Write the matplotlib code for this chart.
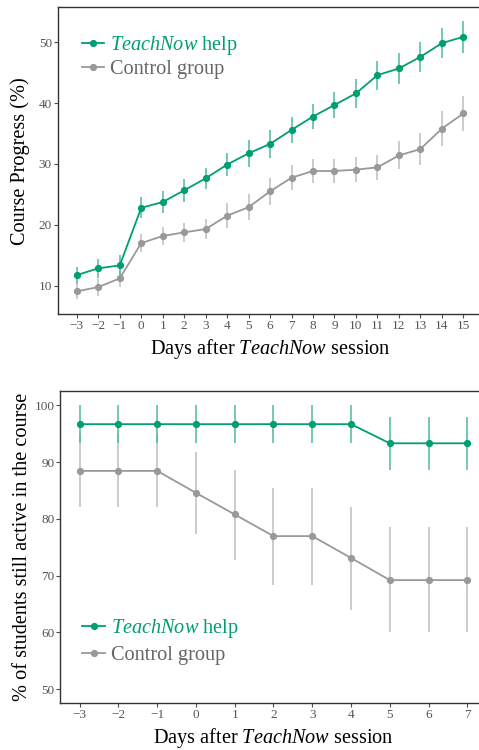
import matplotlib
matplotlib.use("Agg")
import matplotlib.pyplot as plt

plt.rcParams['font.family'] = ['Liberation Serif', 'DejaVu Serif']
plt.rcParams['mathtext.fontset'] = 'custom'
plt.rcParams['mathtext.rm'] = 'Liberation Serif'
plt.rcParams['mathtext.it'] = 'Liberation Serif:italic'

# ---- Data: course progress ----
days_prog = [-3, -2, -1, 0, 1, 2, 3, 4, 5, 6, 7, 8, 9, 10, 11, 12, 13, 14, 15]
teach_prog = [11.75, 12.85, 13.34, 22.8, 23.75, 25.67, 27.64, 29.9, 31.75, 33.3,
              35.6, 37.8, 39.7, 41.6, 44.6, 45.7, 47.6, 49.85, 50.9]
teach_prog_err = [1.4, 1.6, 1.7, 1.75, 1.8, 1.9, 1.7, 1.9, 2.2, 2.3,
                  2.2, 2.05, 2.1, 2.4, 2.4, 2.5, 2.5, 2.5, 2.6]
ctrl_prog = [9.07, 9.78, 11.2, 17.0, 18.16, 18.77, 19.3, 21.5, 22.9, 25.5,
             27.75, 28.85, 28.85, 29.07, 29.45, 31.4, 32.45, 35.8, 38.3]
ctrl_prog_err = [1.25, 1.4, 1.4, 1.5, 1.55, 1.6, 1.65, 2.05, 2.1, 2.25,
                 2.05, 1.95, 1.95, 2.0, 2.05, 2.3, 2.6, 2.9, 2.8]

# ---- Data: retention ----
days_ret = [-3, -2, -1, 0, 1, 2, 3, 4, 5, 6, 7]
teach_ret = [96.67, 96.67, 96.67, 96.67, 96.67, 96.67, 96.67, 96.67, 93.3, 93.3, 93.3]
teach_ret_lo = [93.3, 93.3, 93.3, 93.3, 93.3, 93.3, 93.3, 93.3, 88.6, 88.6, 88.6]
teach_ret_hi = [100, 100, 100, 100, 100, 100, 100, 100, 97.9, 97.9, 97.9]
ctrl_ret = [88.44, 88.44, 88.44, 84.57, 80.76, 76.95, 76.95, 73.1, 69.2, 69.2, 69.2]
ctrl_ret_lo = [82.0, 82.0, 82.0, 77.3, 72.7, 68.4, 68.4, 64.0, 60.0, 60.0, 60.0]
ctrl_ret_hi = [94.9, 94.9, 94.9, 91.85, 88.6, 85.4, 85.4, 82.0, 78.5, 78.5, 78.5]

labels = [r'$\mathit{TeachNow}$ help', 'Control group']
xlabel = r'Days after $\mathit{TeachNow}$ session'

GREEN = '#009E73'
GREEN_ERR = '#4DBB9A'
GRAY = '#999999'
GRAY_ERR = '#BDBDBD'
TICK_COL = '#555555'
LABEL_FS = 14.6
LEG_FS = 14.6

fig = plt.figure(figsize=(4.79, 7.5), dpi=100)
ax1 = fig.add_axes([57.5 / 479, 1 - 314 / 750, (482.6 - 57.5) / 479, (314 - 7.3) / 750])
ax2 = fig.add_axes([60.3 / 479, 1 - 703.3 / 750, (486.7 - 60.3) / 479, (703.3 - 391.3) / 750])


def style(ax):
    for s in ['left', 'bottom', 'top', 'right']:
        ax.spines[s].set_color('#333333')
        ax.spines[s].set_linewidth(1.0)
    ax.tick_params(axis='both', colors='#4D4D4D', labelcolor=TICK_COL,
                   labelsize=9.5, length=3, width=0.8, pad=1)


def legend(ax, handles, anchor, spacing):
    leg = ax.legend(handles, labels, loc='upper left', bbox_to_anchor=anchor, frameon=False,
                    fontsize=LEG_FS, handlelength=1.1, handletextpad=0.3,
                    labelspacing=spacing, borderaxespad=0, borderpad=0)
    for t, c in zip(leg.get_texts(), [GREEN, '#666666']):
        t.set_color(c)


# ---- Top chart ----
ax = ax1
ax.errorbar(days_prog, ctrl_prog, yerr=ctrl_prog_err, fmt='none', ecolor=GRAY_ERR, elinewidth=1.1, zorder=1)
ax.errorbar(days_prog, teach_prog, yerr=teach_prog_err, fmt='none', ecolor=GREEN_ERR, elinewidth=1.1, zorder=1)
l1, = ax.plot(days_prog, teach_prog, '-o', color=GREEN, lw=1.3, ms=4.2, zorder=3)
l2, = ax.plot(days_prog, ctrl_prog, '-o', color=GRAY, lw=1.3, ms=4.2, zorder=2)
ax.set_xlim(-3.9, 15.9)
ax.set_ylim(5.35, 55.75)
ax.set_xticks(days_prog)
ax.set_xticklabels([str(d).replace('-', '\u2212') for d in days_prog])
ax.set_yticks([10, 20, 30, 40, 50])
ax.set_xlabel(xlabel, fontsize=LABEL_FS, labelpad=4)
ax.set_ylabel('Course Progress (%)', fontsize=LABEL_FS, labelpad=6)
style(ax)
legend(ax, [l1, l2], (0.057, 0.912), 0.12)

# ---- Bottom chart ----
ax = ax2
lo_c = [v - l for v, l in zip(ctrl_ret, ctrl_ret_lo)]
hi_c = [h - v for v, h in zip(ctrl_ret, ctrl_ret_hi)]
lo_t = [v - l for v, l in zip(teach_ret, teach_ret_lo)]
hi_t = [h - v for v, h in zip(teach_ret, teach_ret_hi)]
ax.errorbar(days_ret, ctrl_ret, yerr=[lo_c, hi_c], fmt='none', ecolor=GRAY_ERR, elinewidth=1.1, zorder=1)
ax.errorbar(days_ret, teach_ret, yerr=[lo_t, hi_t], fmt='none', ecolor=GREEN_ERR, elinewidth=1.1, zorder=1)
m1, = ax.plot(days_ret, teach_ret, '-o', color=GREEN, lw=1.3, ms=4.2, zorder=3)
m2, = ax.plot(days_ret, ctrl_ret, '-o', color=GRAY, lw=1.3, ms=4.2, zorder=2)
ax.set_xlim(-3.5, 7.5)
ax.set_ylim(47.5, 102.46)
ax.set_xticks(days_ret)
ax.set_xticklabels([str(d).replace('-', '\u2212') for d in days_ret])
ax.set_yticks([50, 60, 70, 80, 90, 100])
ax.set_xlabel(xlabel, fontsize=LABEL_FS, labelpad=4)
ax.set_ylabel('% of students still active in the course', fontsize=LABEL_FS, labelpad=2)
style(ax)
legend(ax, [m1, m2], (0.052, 0.275), 0.28)

fig.savefig('out.png', dpi=100)
